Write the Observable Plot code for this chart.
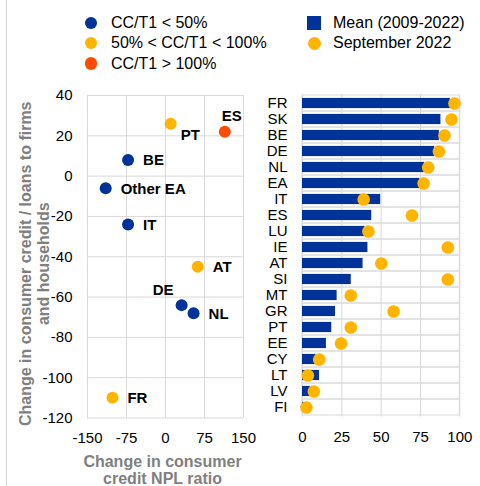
<!DOCTYPE html>
<html>
<head>
<meta charset="utf-8">
<script src="https://cdn.jsdelivr.net/npm/d3@7"></script>
<script src="https://cdn.jsdelivr.net/npm/@observablehq/plot@0.6"></script>
<style>
  html, body { margin: 0; padding: 0; background: #fff; }
  body { font-family: "Liberation Sans", Arial, sans-serif; }
  #wrap { position: relative; width: 480px; height: 486px; overflow: hidden; background: #fff; }
  #wrap svg { position: absolute; top: 0; overflow: visible; }
  .vline { position: absolute; left: 6px; top: 0; width: 1px; height: 486px; background: #d6d6d6; }
  .leg { position: absolute; font-size: 16px; line-height: 20px; color: #000; white-space: nowrap; }
  .sym { position: absolute; }
</style>
</head>
<body>
<div id="wrap"><div class="vline"></div></div>
<script>
// ---------- data ----------
// Left panel: scatter
const countries    = ["PT", "ES", "BE", "Other EA", "IT", "AT", "DE", "NL", "FR"];
const nplChange    = [10, 114, -72, -115, -72, 62, 31, 54, -102];
const creditChange = [26, 22, 8, -6, -24, -45, -64, -68, -110];
const ratioClass   = ["mid", "high", "low", "low", "low", "mid", "low", "low", "mid"];
const classLabels  = ["CC/T1 < 50%", "50% < CC/T1 < 100%", "CC/T1 > 100%"];
const classKeys    = ["low", "mid", "high"];
const scatterXTicks = [-150, -75, 0, 75, 150];
const scatterYTicks = [-120, -100, -80, -60, -40, -20, 0, 20, 40];
const xTitleLines = ["Change in consumer", "credit NPL ratio"];
const yTitleLines = ["Change in consumer credit / loans to firms", "and households"];

// Right panel: bars + dots
const barCats    = ["FR","SK","BE","DE","NL","EA","IT","ES","LU","IE","AT","SI","MT","GR","PT","EE","CY","LT","LV","FI"];
const meanValues = [94, 88, 87, 84, 77.6, 74.6, 49.7, 44, 39.7, 41.6, 38.5, 31, 22, 21, 18.6, 15.2, 8.5, 10.8, 5, 1];
const sep2022    = [96.6, 94.7, 90.3, 86.7, 79.9, 77, 38.9, 69.6, 41.9, 92.4, 50.1, 92.4, 30.7, 57.9, 30.7, 24.5, 10.6, 3.4, 7.2, 2.5];
const barXTicks  = [0, 25, 50, 75, 100];
const seriesLabels = ["Mean (2009-2022)", "September 2022"];

// ---------- styles ----------
const BLUE = "#003299", YELLOW = "#FFB400", RED = "#FF4B00", GRID = "#d9d9d9";
const FONT = '"Liberation Sans", Arial, sans-serif';
const wrap = document.getElementById("wrap");

// ---------- left scatter ----------
const scatter = countries.map((c, i) => ({name: c, x: nplChange[i], y: creditChange[i], cls: ratioClass[i]}));
const aboveLeft = new Set(["DE"]);
const aboveRight = new Set(["ES"]);
const belowRight = new Set(["PT"]);
const rightSide = scatter.filter(d => !aboveLeft.has(d.name) && !aboveRight.has(d.name) && !belowRight.has(d.name));
const titleStyle = {textAnchor: "middle", lineAnchor: "middle", fontWeight: "bold", fontSize: 16, fill: "#7f7f7f"};

const left = Plot.plot({
  width: 255, height: 486,
  marginLeft: 87, marginRight: 12, marginTop: 95, marginBottom: 68.5,
  style: {fontFamily: FONT, fontSize: "15px", color: "#000", background: "transparent", overflow: "visible"},
  x: {domain: [-150, 150], label: null},
  y: {domain: [-120, 40], label: null},
  color: {domain: classKeys, range: [BLUE, YELLOW, RED]},
  marks: [
    Plot.gridX(scatterXTicks, {stroke: GRID, strokeOpacity: 1}),
    Plot.gridY(scatterYTicks, {stroke: GRID, strokeOpacity: 1}),
    Plot.axisX(scatterXTicks, {tickSize: 0, tickPadding: 14, tickFormat: d => String(d), fontSize: 15, fill: "#000"}),
    Plot.axisY(scatterYTicks, {tickSize: 0, tickPadding: 15, tickFormat: d => String(d), fontSize: 15, fill: "#000"}),
    Plot.dot(scatter, {x: "x", y: "y", fill: "cls", r: 6}),
    Plot.text(rightSide, {x: "x", y: "y", text: "name", textAnchor: "start", dx: 15, dy: 0.5, fontWeight: "bold", fontSize: 15, fill: "#000"}),
    Plot.text(scatter.filter(d => belowRight.has(d.name)), {x: "x", y: "y", text: "name", textAnchor: "start", dx: 10, dy: 11, fontWeight: "bold", fontSize: 15, fill: "#000"}),
    Plot.text(scatter.filter(d => aboveRight.has(d.name)), {x: "x", y: "y", text: "name", textAnchor: "start", dx: -3, dy: -16, fontWeight: "bold", fontSize: 15, fill: "#000"}),
    Plot.text(scatter.filter(d => aboveLeft.has(d.name)), {x: "x", y: "y", text: "name", textAnchor: "middle", dx: -18.5, dy: -15, fontWeight: "bold", fontSize: 15, fill: "#000"}),
    // axis titles
    Plot.text([xTitleLines[0]], {frameAnchor: "bottom", text: d => d, dx: -3, dy: 43.5, ...titleStyle}),
    Plot.text([xTitleLines[1]], {frameAnchor: "bottom", text: d => d, dx: -3, dy: 60.5, ...titleStyle}),
    Plot.text([yTitleLines[0]], {frameAnchor: "left", text: d => d, rotate: -90, dx: -62, dy: 7, ...titleStyle}),
    Plot.text([yTitleLines[1]], {frameAnchor: "left", text: d => d, rotate: -90, dx: -43.5, dy: 7, ...titleStyle})
  ]
});
left.style.left = "0px";
wrap.appendChild(left);

// ---------- right bars ----------
const bars = barCats.map((c, i) => ({cat: c, mean: meanValues[i], sep: sep2022[i]}));
const right = Plot.plot({
  width: 225, height: 486,
  marginLeft: 47, marginRight: 20.7, marginTop: 94.3, marginBottom: 69.3,
  style: {fontFamily: FONT, fontSize: "15px", color: "#000", background: "transparent", overflow: "visible"},
  x: {domain: [0, 100], label: null},
  y: {domain: barCats, padding: 0, label: null},
  marks: [
    Plot.barX(bars, {y: "cat", x1: d => 0, x2: d => 100, fill: "none", stroke: GRID, strokeWidth: 1}),
    Plot.gridX(barXTicks, {stroke: GRID, strokeOpacity: 1}),
    Plot.axisX(barXTicks, {tickSize: 0, tickPadding: 14, tickFormat: d => String(d), fontSize: 15, fill: "#000"}),
    Plot.axisY({tickSize: 0, tickPadding: 15, fontSize: 15, fill: "#000"}),
    Plot.barX(bars, {y: "cat", x: "mean", fill: BLUE, insetTop: 2.9, insetBottom: 2.9}),
    Plot.dot(bars, {y: "cat", x: "sep", fill: YELLOW, r: 6.3})
  ]
});
right.style.left = "255px";
wrap.appendChild(right);

// ---------- legend ----------
const classColors = [BLUE, YELLOW, RED];
const legRowsY = [23, 43, 63.5];
classLabels.forEach((lab, i) => {
  const s = document.createElement("div");
  s.className = "sym";
  Object.assign(s.style, {left: (91 - 6.2) + "px", top: (legRowsY[i] - 6.2) + "px", width: "12.4px", height: "12.4px", borderRadius: "50%", background: classColors[i]});
  wrap.appendChild(s);
  const t = document.createElement("div");
  t.className = "leg";
  t.textContent = lab;
  Object.assign(t.style, {left: "111px", top: (legRowsY[i] - 9.8) + "px"});
  wrap.appendChild(t);
});
seriesLabels.forEach((lab, i) => {
  const s = document.createElement("div");
  s.className = "sym";
  if (i === 0) {
    Object.assign(s.style, {left: (314 - 7) + "px", top: (legRowsY[i] - 7) + "px", width: "14px", height: "14px", background: BLUE});
  } else {
    Object.assign(s.style, {left: (314 - 6.5) + "px", top: (legRowsY[i] - 6.5) + "px", width: "13px", height: "13px", borderRadius: "50%", background: YELLOW});
  }
  wrap.appendChild(s);
  const t = document.createElement("div");
  t.className = "leg";
  t.textContent = lab;
  Object.assign(t.style, {left: "333px", top: (legRowsY[i] - 9.8) + "px"});
  wrap.appendChild(t);
});
</script>
</body>
</html>
